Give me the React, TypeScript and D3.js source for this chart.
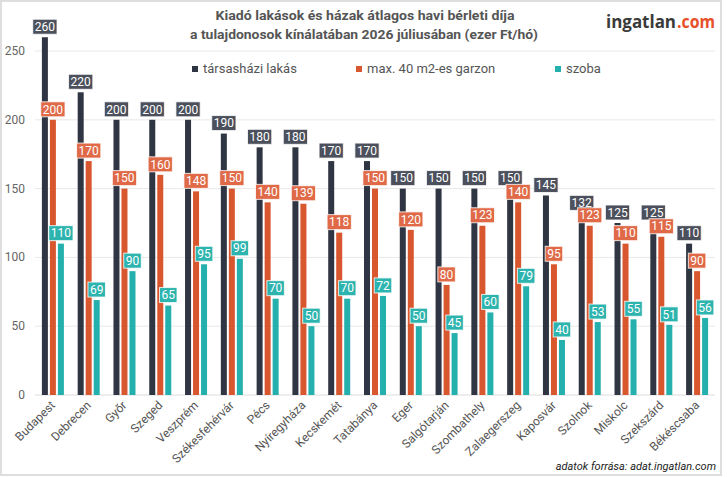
import React from 'react';
import * as d3 from 'd3';

const categories = ['Budapest','Debrecen','Győr','Szeged','Veszprém','Székesfehérvár','Pécs','Nyíregyháza','Kecskemét','Tatabánya','Eger','Salgótarján','Szombathely','Zalaegerszeg','Kaposvár','Szolnok','Miskolc','Szekszárd','Békéscsaba'];
const seriesNames = ['társasházi lakás','max. 40 m2-es garzon','szoba'];
const lakas = [260,220,200,200,200,190,180,180,170,170,150,150,150,150,145,132,125,125,110];
const garzon = [200,170,150,160,148,150,140,139,118,150,120,80,123,140,95,123,110,115,90];
const szoba = [110,69,90,65,95,99,70,50,70,72,50,45,60,79,40,53,55,51,56];
const yTicks = [0,50,100,150,200,250];
const titleLines = ['Kiadó lakások és házak átlagos havi bérleti díja','a tulajdonosok kínálatában 2026 júliusában (ezer Ft/hó)'];
const source = 'adatok forrása: adat.ingatlan.com';

const barColors = ['#2f3542','#d9572f','#24b0ac'];
const labelColors = ['#4b505c','#e06a48','#2db4af'];

export default function App() {
  const W = 727, H = 477;
  const series = [lakas, garzon, szoba];
  const x = d3.scaleBand<string>().domain(categories).range([35, 715]).paddingInner(0.385).paddingOuter(0.1925);
  const xs = d3.scaleBand<number>().domain([0,1,2]).range([0, x.bandwidth()]).paddingInner(0.25);
  const y = d3.scaleLinear().domain([0, 250]).range([395, 51]);
  const font = 'Roboto, sans-serif';
  const legendX = [192, 356, 555];

  return (
    <svg width={W} height={H} style={{position:'absolute', left:0, top:0, background:'#fff'}} fontFamily={font}>
      <rect x={1} y={1} width={720} height={474} fill="#fff" stroke="#dedede" strokeWidth={2} />
      {/* title */}
      <text x={365} y={20} textAnchor="middle" fontSize={13} fontWeight={700} fill="#555" textLength={299} lengthAdjust="spacingAndGlyphs">{titleLines[0]}</text>
      <text x={364} y={39} textAnchor="middle" fontSize={13} fontWeight={700} fill="#555" textLength={348} lengthAdjust="spacingAndGlyphs">{titleLines[1]}</text>
      {/* logo */}
      <text x={606} y={28} fontFamily="'Open Sans', sans-serif" fontSize={18} fontWeight={700} fill="#3a3a3a" textLength={70} lengthAdjust="spacingAndGlyphs">ingatlan</text>
      <text x={677} y={28} fontFamily="'Open Sans', sans-serif" fontSize={18} fontWeight={700} fill="#e8502a" textLength={38} lengthAdjust="spacingAndGlyphs">.com</text>
      {/* gridlines */}
      {yTicks.map(t => (
        <g key={t}>
          <line x1={35} x2={715} y1={y(t)} y2={y(t)} stroke={t === 0 ? '#dcdcdc' : '#e8e8e8'} strokeWidth={1} />
          <text x={25} y={y(t) + 4} textAnchor="end" fontSize={12} fill="#666">{t}</text>
        </g>
      ))}
      {/* legend */}
      {seriesNames.map((n, i) => (
        <g key={n}>
          <rect x={legendX[i]} y={66} width={6} height={6} fill={barColors[i]} />
          <text x={legendX[i] + 11} y={73} fontSize={13} fill="#555">{n}</text>
        </g>
      ))}
      {/* bars */}
      {series.map((vals, si) => vals.map((v, ci) => (
        <rect key={`b${si}-${ci}`} x={(x(categories[ci]) as number) + (xs(si) as number)} y={y(v)} width={xs.bandwidth()} height={y(0) - y(v)} fill={barColors[si]} />
      )))}
      {/* value labels */}
      {series.map((vals, si) => vals.map((v, ci) => {
        const cx = (x(categories[ci]) as number) + (xs(si) as number) + xs.bandwidth() / 2;
        const s = String(v);
        const w = s.length * 6.75 + 4;
        const h = 15;
        const by = y(v) - 3 - h;
        return (
          <g key={`l${si}-${ci}`}>
            <rect x={cx - w / 2} y={by} width={w} height={h} fill={labelColors[si]} stroke="#fff" strokeOpacity={0.8} strokeWidth={1} />
            <text x={cx} y={by + h / 2 + 4.2} textAnchor="middle" fontSize={12} fill="#fff">{s}</text>
          </g>
        );
      }))}
      {/* x labels */}
      {categories.map(c => {
        const cx = (x(c) as number) + x.bandwidth() / 2 + 3;
        return (
          <text key={c} transform={`translate(${cx},${406}) rotate(-45)`} textAnchor="end" fontSize={12} fill="#555">{c}</text>
        );
      })}
      {/* source */}
      <text x={716} y={470} textAnchor="end" fontSize={11} fontStyle="italic" fill="#222">{source}</text>
    </svg>
  );
}
